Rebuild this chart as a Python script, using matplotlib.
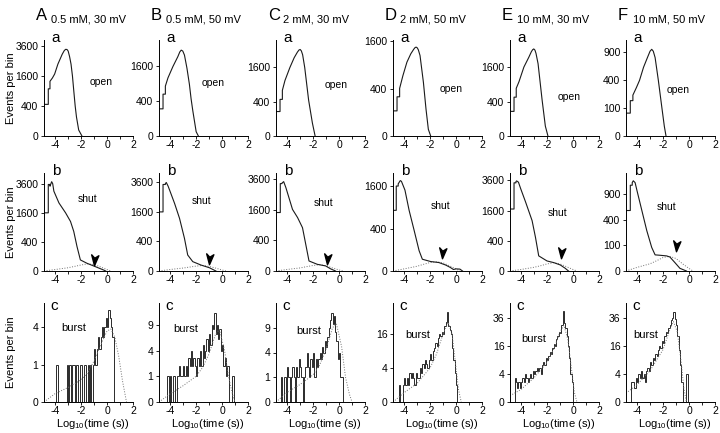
import numpy as np
import matplotlib
matplotlib.use('Agg')
import matplotlib.pyplot as plt
from matplotlib.path import Path
from matplotlib.ticker import NullLocator

plt.rcParams['font.family'] = ['Liberation Sans', 'DejaVu Sans']
plt.rcParams['axes.unicode_minus'] = False
plt.rcParams['mathtext.default'] = 'regular'

# ---- data ----
panel_letters = ['A', 'B', 'C', 'D', 'E', 'F']
conditions = ['0.5 mM, 30 mV', '0.5 mM, 50 mV', '2 mM, 30 mV',
              '2 mM, 50 mV', '10 mM, 30 mV', '10 mM, 50 mV']

# open-time histograms (row a): log10(t) and events per bin
open_x_A = [-4.85, -4.52, -4.52, -4.39, -4.39, -4.2, -4.03, -3.78, -3.45, -3.3, -3.19, -3.08, -2.99, -2.88, -2.77, -2.66, -2.56, -2.45, -2.35, -2.18, -1.93]
open_y_A = [445, 445, 990, 990, 1330, 1500, 1710, 2300, 2970, 3230, 3340, 3330, 3210, 2800, 2300, 1600, 920, 400, 160, 16, 0]
open_x_B = [-4.85, -4.54, -4.54, -4.36, -4.36, -4.16, -3.78, -3.4, -3.25, -3.14, -3.02, -2.89, -2.7, -2.51, -2.38, -2.25, -1.99, -1.82]
open_y_B = [240, 240, 570, 570, 810, 1100, 1570, 2050, 2300, 2400, 2350, 2130, 1500, 870, 450, 210, 6, 0]
open_x_C = [-4.85, -4.54, -4.54, -4.36, -4.36, -4.16, -3.78, -3.45, -3.2, -3.08, -2.99, -2.9, -2.8, -2.64, -2.34, -2.05, -1.84]
open_y_C = [204, 204, 457, 457, 710, 1050, 1600, 2090, 2400, 2520, 2550, 2470, 2250, 1600, 440, 58, 0]
open_x_D = [-4.85, -4.54, -4.54, -4.34, -4.34, -4.09, -3.78, -3.48, -3.25, -3.15, -3.07, -2.98, -2.9, -2.77, -2.51, -2.31, -2.13, -1.95]
open_y_D = [113, 113, 275, 275, 406, 650, 975, 1210, 1350, 1400, 1415, 1390, 1330, 1160, 516, 130, 8, 0]
open_x_E = [-4.85, -4.54, -4.54, -4.37, -4.37, -4.16, -3.78, -3.4, -3.2, -3.1, -3.02, -2.93, -2.85, -2.69, -2.38, -2.13, -1.93]
open_y_E = [204, 204, 507, 507, 765, 990, 1600, 2090, 2400, 2510, 2550, 2480, 2300, 1760, 440, 33, 0]
open_x_F = [-4.85, -4.52, -4.52, -4.32, -4.32, -4.05, -3.81, -3.5, -3.2, -3.0, -2.87, -2.75, -2.61, -2.36, -2.1, -1.9, -1.77]
open_y_F = [67, 67, 160, 160, 214, 300, 396, 605, 788, 920, 962, 920, 788, 396, 111, 12, 0]

# shut-time histograms (row b)
shut_x_A = [-4.85, -4.52, -4.52, -4.39, -4.39, -4.26, -4.18, -4.09, -3.7, -3.19, -2.81, -2.56, -2.31, -2.05, -1.54, -0.9, -0.27, -0.1]
shut_y_A = [1600, 1600, 3540, 3540, 3400, 3770, 3600, 3010, 2190, 1600, 1160, 740, 283, 58, 28, 9, 0.5, 0]
shut_x_B = [-4.85, -4.54, -4.54, -4.36, -4.36, -4.29, -4.15, -4.03, -3.65, -3.27, -2.89, -2.64, -2.25, -1.61, -0.98, -0.47]
shut_y_B = [1600, 1600, 3430, 3430, 3500, 3590, 3300, 2990, 2090, 1270, 488, 117, 40, 16, 5, 0]
shut_x_C = [-4.85, -4.52, -4.52, -4.39, -4.39, -4.26, -4.09, -3.58, -3.19, -2.81, -2.56, -2.31, -1.67, -1.03, -0.65, -0.27]
shut_y_C = [1460, 1460, 3260, 3260, 3300, 3410, 2970, 1620, 1220, 800, 304, 43, 19, 11, 2, 0]
shut_x_D = [-4.85, -4.6, -4.6, -4.45, -4.45, -4.29, -4.2, -3.93, -3.61, -3.22, -2.84, -2.59, -1.95, -1.32, -0.8, -0.42, -0.2, 0.0, 0.3, 0.5]
shut_y_D = [824, 824, 1615, 1615, 1700, 1830, 1800, 1465, 824, 366, 92, 31, 20, 16, 8, 2.6, 0.5, 1, 0.8, 0]
shut_x_E = [-4.85, -4.54, -4.54, -4.39, -4.39, -4.34, -4.2, -4.03, -3.65, -3.15, -2.89, -2.64, -2.0, -1.49, -0.98, -0.6, -0.35]
shut_y_E = [1680, 1680, 3400, 3400, 3500, 3550, 3450, 2970, 2080, 1110, 497, 100, 44, 31, 16, 3.2, 0]
shut_x_F = [-4.85, -4.52, -4.52, -4.37, -4.37, -4.29, -4.15, -4.01, -3.63, -3.25, -2.87, -2.61, -2.23, -1.72, -1.47, -1.09, -0.7, -0.2]
shut_y_F = [562, 562, 1130, 1130, 1200, 1250, 1200, 1000, 562, 250, 85, 40, 38, 35, 30, 11, 1.1, 0]

# slow shut component (dotted)
slow_x = [-4.85, -4.0, -3.0, -2.5, -2.0, -1.5, -1.0, -0.5, 0.0, 0.3]
slow_y_A = [0, 1, 5, 10, 17, 24, 20, 8, 1, 0]
slow_y_B = [0, 1, 4, 7, 11, 14, 10, 4, 0.5, 0]
slow_y_C = [0, 1, 4, 8, 13, 17, 12, 4, 0.5, 0]
slow_y_D = [0, 1, 5, 10, 16, 19, 15, 6, 1, 0]
slow_y_E = [0, 1, 6, 12, 22, 30, 22, 8, 1, 0]
slow_y_F = [0, 2, 8, 16, 28, 33, 24, 8, 1, 0]

# arrowheads marking the slow component (x, events per bin)
arrow_x = [-0.99, -0.98, -0.96, -1.11, -0.90, -1.01]
arrow_y = [70, 74, 77, 84, 164, 105]

# burst-length histograms (row c): counts in 0.1 log-unit bins from -4.7
burst_start = -4.7
burst_A = [0, 0, 0, 0, 0, 0, 0, 0, 1, 0, 0, 0, 0, 0, 0, 0, 1, 0, 1, 0,
           1, 1, 0, 1, 1, 0, 1, 1, 0, 1, 1, 0, 1, 0, 1, 0, 1, 2, 1, 2,
           3, 2, 3, 4, 3, 4, 5, 4, 6, 5, 4, 3, 0, 0, 0, 0, 0, 0, 0, 0]
burst_B = [0, 0, 0, 0, 0, 1, 0, 1, 0, 1, 1, 0, 1, 1, 2, 1, 1, 2, 1, 2,
           1, 3, 2, 4, 2, 3, 2, 1, 3, 2, 4, 2, 5, 3, 4, 6, 4, 7, 5, 9,
           8, 12, 7, 9, 6, 8, 4, 5, 2, 3, 1, 2, 0, 0, 0, 1, 0, 0, 0, 0]
burst_C = [0, 0, 1, 0, 0, 1, 0, 2, 1, 0, 1, 2, 1, 0, 2, 1, 3, 2, 1, 0,
           1, 2, 4, 2, 1, 3, 2, 4, 1, 3, 2, 3, 4, 3, 5, 4, 6, 5, 7, 9,
           11, 13, 10, 12, 8, 6, 3, 4, 1, 1, 0, 0, 0, 0, 0, 0, 0, 0, 0, 0]
burst_D = [0, 0, 0, 1, 0, 0, 1, 2, 1, 2, 1, 3, 2, 3, 2, 1, 3, 2, 2, 4,
           3, 5, 4, 6, 5, 4, 6, 8, 6, 9, 10, 12, 11, 14, 16, 15, 17, 16, 20, 22,
           28, 20, 18, 16, 10, 6, 3, 1, 0, 0, 0, 0, 0, 0, 0, 0, 0, 0, 0, 0]
burst_E = [0, 0, 3, 2, 1, 2, 1, 2, 3, 2, 4, 3, 2, 3, 4, 3, 5, 4, 5, 6,
           5, 6, 4, 7, 8, 7, 10, 9, 11, 13, 12, 15, 17, 16, 20, 22, 25, 24, 30, 42,
           32, 28, 22, 16, 10, 4, 2, 0, 0, 0, 0, 0, 0, 0, 0, 0, 0, 0, 0, 0]
burst_F = [0, 0, 2, 2, 2, 1, 3, 2, 4, 3, 5, 3, 4, 2, 5, 6, 5, 8, 7, 10,
           9, 12, 11, 14, 16, 15, 19, 18, 22, 25, 24, 28, 30, 34, 36, 41, 35, 30, 22, 14,
           7, 2, 0, 0, 0, 4, 0, 0, 0, 0, 0, 0, 0, 0, 0, 0, 0, 0, 0, 0]

# fitted burst distributions (dotted)
fit_x_A = [-4.85, -4.0, -3.0, -2.0, -1.5, -1.0, -0.5, 0.0, 0.3, 0.6, 0.9, 1.2, 1.5]
fit_y_A = [0, 0.05, 0.15, 0.35, 0.6, 1.2, 2.3, 3.6, 3.8, 3.0, 1.5, 0.3, 0]
fit_x_B = [-4.85, -4.0, -3.0, -2.0, -1.5, -1.0, -0.5, -0.2, 0.2, 0.5, 0.8, 1.0]
fit_y_B = [0, 0.1, 0.4, 1.0, 1.8, 3.5, 7, 8, 4, 1, 0.1, 0]
fit_x_C = [-4.85, -4.0, -3.0, -2.0, -1.5, -1.0, -0.5, -0.2, 0.2, 0.5, 0.8, 1.0]
fit_y_C = [0, 0.15, 0.5, 1.2, 2.2, 4.5, 9, 10, 5, 1, 0.1, 0]
fit_x_D = [-4.85, -4.0, -3.0, -2.0, -1.5, -1.0, -0.6, -0.3, 0.0, 0.2, 0.4]
fit_y_D = [0, 0.3, 1.2, 4, 8, 16, 22, 16, 4, 0.5, 0]
fit_x_E = [-4.85, -4.0, -3.0, -2.0, -1.5, -1.0, -0.7, -0.4, -0.1, 0.1, 0.3]
fit_y_E = [0.2, 0.8, 3, 8, 14, 25, 30, 20, 5, 0.5, 0]
fit_x_F = [-4.85, -4.0, -3.0, -2.0, -1.5, -1.2, -0.9, -0.6, -0.4, -0.2]
fit_y_F = [0.4, 1.5, 5, 14, 26, 33, 25, 8, 1, 0]

# y ticks and tops (events per bin)
open_ticks = [[0, 400, 1600, 3600], [0, 400, 1600], [0, 400, 1600],
              [0, 400, 1600], [0, 400, 1600], [0, 100, 400, 900]]
open_top = [4100, 3000, 3140, 1650, 3100, 1180]
shut_ticks = [[0, 400, 1600, 3600], [0, 400, 1600, 3600], [0, 400, 1600, 3600],
              [0, 400, 1600], [0, 400, 1600, 3600], [0, 100, 400, 900]]
shut_top = [4540, 4400, 4100, 2150, 4200, 1475]
burst_ticks = [[0, 1, 4], [0, 1, 4, 9], [0, 1, 4, 9],
               [0, 4, 16], [0, 4, 16, 36], [0, 4, 16, 36]]
burst_top = [7.0, 14.9, 16, 34, 50, 50]

open_x = [open_x_A, open_x_B, open_x_C, open_x_D, open_x_E, open_x_F]
open_y = [open_y_A, open_y_B, open_y_C, open_y_D, open_y_E, open_y_F]
shut_x = [shut_x_A, shut_x_B, shut_x_C, shut_x_D, shut_x_E, shut_x_F]
shut_y = [shut_y_A, shut_y_B, shut_y_C, shut_y_D, shut_y_E, shut_y_F]
slow_y = [slow_y_A, slow_y_B, slow_y_C, slow_y_D, slow_y_E, slow_y_F]
bursts = [burst_A, burst_B, burst_C, burst_D, burst_E, burst_F]
fit_x = [fit_x_A, fit_x_B, fit_x_C, fit_x_D, fit_x_E, fit_x_F]
fit_y = [fit_y_A, fit_y_B, fit_y_C, fit_y_D, fit_y_E, fit_y_F]

# ---- layout (pixels of a 720x433 canvas) ----
W, H = 720.0, 433.0
col_left = [44, 159, 276, 393, 510, 626]
ax_w = 89
row_top = [40, 173, 303]
row_h = [96, 98, 99]

open_lbl = [(-1.34, 0.56), (-1.57, 0.55), (-1.11, 0.53), (-1.26, 0.49), (-1.19, 0.41), (-1.72, 0.48)]
shut_lbl = [(-2.25, 0.73), (-2.34, 0.71), (-1.94, 0.69), (-1.91, 0.66), (-1.96, 0.59), (-2.48, 0.65)]
burst_lbl = [(-3.55, 0.75), (-3.78, 0.74), (-3.32, 0.72), (-3.93, 0.68), (-4.01, 0.64), (-4.32, 0.68)]

LINE = '#1a1a1a'
arrow_path = Path([(0, -1), (-0.45, 0.75), (0.05, 0.2), (0.7, 0.6), (0, -1)],
                  [Path.MOVETO, Path.LINETO, Path.LINETO, Path.LINETO, Path.CLOSEPOLY])


def sq(v):
    return np.sqrt(np.clip(v, 0, None))


def sq_inv(v):
    return np.square(v)


def make_axes(fig, col, row):
    left = col_left[col] / W
    bottom = (H - row_top[row] - row_h[row]) / H
    ax = fig.add_axes([left, bottom, ax_w / W, row_h[row] / H])
    ax.set_yscale('function', functions=(sq, sq_inv))
    ax.set_xlim(-4.85, 2.0)
    ax.spines['top'].set_visible(False)
    ax.spines['right'].set_visible(False)
    for s in ['left', 'bottom']:
        ax.spines[s].set_linewidth(0.7)
    ax.set_xticks([-4, -2, 0, 2])
    ax.set_xticklabels(['-4', '-2', '0', '2'])
    ax.set_xticks([-3, -1, 1], minor=True)
    ax.tick_params(which='both', direction='out', length=2.5, width=0.6,
                   labelsize=7.5, pad=1.5)
    ax.tick_params(axis='x', pad=0.5)
    return ax


def set_y(ax, ticks, top):
    ax.set_ylim(0, top)
    ax.set_yticks(ticks)
    ax.set_yticklabels([str(t) for t in ticks])
    ax.yaxis.set_minor_locator(NullLocator())


fig = plt.figure(figsize=(7.2, 4.33), dpi=100)

for i in range(6):
    # column headers
    fig.text((col_left[i] - 8) / W, (H - 20) / H, panel_letters[i], fontsize=12, va='baseline')
    fig.text((col_left[i] + 7) / W, (H - 22) / H, conditions[i], fontsize=8, va='baseline')

    # a: open times
    ax = make_axes(fig, i, 0)
    ax.plot(open_x[i], open_y[i], color=LINE, lw=0.8)
    set_y(ax, open_ticks[i], open_top[i])
    ax.text(0.085, 0.98, 'a', transform=ax.transAxes, fontsize=11, va='baseline')
    ax.text(open_lbl[i][0], open_lbl[i][1], 'open', transform=ax.get_xaxis_transform(),
            fontsize=7.5, va='center')

    # b: shut times
    ax = make_axes(fig, i, 1)
    ax.plot(slow_x, slow_y[i], color='0.45', lw=0.7, ls=':')
    ax.plot(shut_x[i], shut_y[i], color=LINE, lw=0.8)
    ax.plot([arrow_x[i]], [arrow_y[i]], marker=arrow_path, ms=9, color='k', ls='none')
    set_y(ax, shut_ticks[i], shut_top[i])
    ax.text(0.085, 0.98, 'b', transform=ax.transAxes, fontsize=11, va='baseline')
    ax.text(shut_lbl[i][0], shut_lbl[i][1], 'shut', transform=ax.get_xaxis_transform(),
            fontsize=7.5, va='center')

    # c: burst lengths
    ax = make_axes(fig, i, 2)
    counts = bursts[i]
    edges = burst_start + 0.1 * np.arange(len(counts) + 1)
    ax.plot(fit_x[i], fit_y[i], color='0.45', lw=0.7, ls=':')
    ax.stairs(counts, edges, color='#2a2a2a', lw=0.7)
    set_y(ax, burst_ticks[i], burst_top[i])
    ax.text(0.07, 0.93, 'c', transform=ax.transAxes, fontsize=11, va='baseline')
    ax.text(burst_lbl[i][0], burst_lbl[i][1], 'burst', transform=ax.get_xaxis_transform(),
            fontsize=8, va='center')
    fig.text((col_left[i] + ax_w / 2 + 4) / W, (H - 424) / H, 'Log$_{10}$(time (s))',
             fontsize=8, ha='center', va='center')

# shared y labels
for r in range(3):
    yc = (H - row_top[r] - row_h[r] / 2) / H
    fig.text(11 / W, yc, 'Events per bin', rotation=90, fontsize=8, ha='center', va='center')

fig.savefig('out.png', dpi=100)
